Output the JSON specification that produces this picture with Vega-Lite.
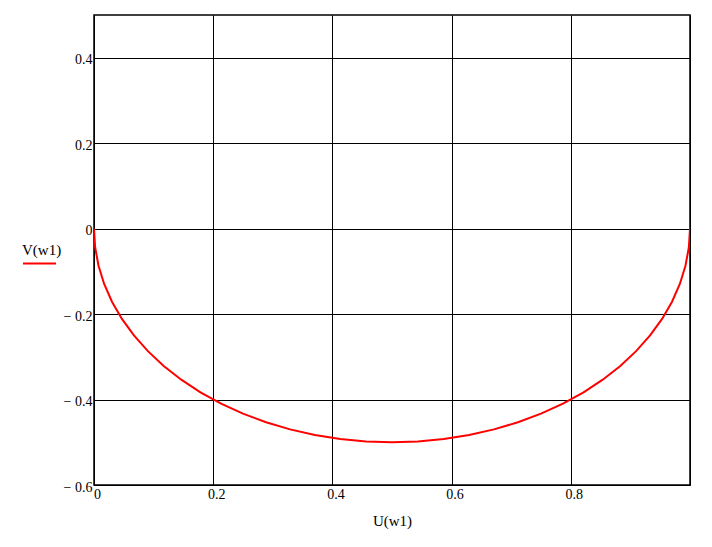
{
  "$schema": "https://vega.github.io/schema/vega-lite/v6.json",
  "width": 596,
  "height": 470,
  "autosize": "none",
  "padding": {"left": 94, "top": 15, "right": 22, "bottom": 62},
  "background": "white",
  "config": {
    "font": "Liberation Serif",
    "view": {"stroke": "#000000", "strokeWidth": 1.5}
  },
  "data": {
    "values": [
      {"U": 0, "V": 0, "s": "V(w1)"},
      {"U": 0.001903, "V": -0.043578, "s": "V(w1)"},
      {"U": 0.007596, "V": -0.086824, "s": "V(w1)"},
      {"U": 0.017037, "V": -0.12941, "s": "V(w1)"},
      {"U": 0.030154, "V": -0.17101, "s": "V(w1)"},
      {"U": 0.046846, "V": -0.211309, "s": "V(w1)"},
      {"U": 0.066987, "V": -0.25, "s": "V(w1)"},
      {"U": 0.090424, "V": -0.286788, "s": "V(w1)"},
      {"U": 0.116978, "V": -0.321394, "s": "V(w1)"},
      {"U": 0.146447, "V": -0.353553, "s": "V(w1)"},
      {"U": 0.178606, "V": -0.383022, "s": "V(w1)"},
      {"U": 0.213212, "V": -0.409576, "s": "V(w1)"},
      {"U": 0.25, "V": -0.433013, "s": "V(w1)"},
      {"U": 0.288691, "V": -0.453154, "s": "V(w1)"},
      {"U": 0.32899, "V": -0.469846, "s": "V(w1)"},
      {"U": 0.37059, "V": -0.482963, "s": "V(w1)"},
      {"U": 0.413176, "V": -0.492404, "s": "V(w1)"},
      {"U": 0.456422, "V": -0.498097, "s": "V(w1)"},
      {"U": 0.5, "V": -0.5, "s": "V(w1)"},
      {"U": 0.543578, "V": -0.498097, "s": "V(w1)"},
      {"U": 0.586824, "V": -0.492404, "s": "V(w1)"},
      {"U": 0.62941, "V": -0.482963, "s": "V(w1)"},
      {"U": 0.67101, "V": -0.469846, "s": "V(w1)"},
      {"U": 0.711309, "V": -0.453154, "s": "V(w1)"},
      {"U": 0.75, "V": -0.433013, "s": "V(w1)"},
      {"U": 0.786788, "V": -0.409576, "s": "V(w1)"},
      {"U": 0.821394, "V": -0.383022, "s": "V(w1)"},
      {"U": 0.853553, "V": -0.353553, "s": "V(w1)"},
      {"U": 0.883022, "V": -0.321394, "s": "V(w1)"},
      {"U": 0.909576, "V": -0.286788, "s": "V(w1)"},
      {"U": 0.933013, "V": -0.25, "s": "V(w1)"},
      {"U": 0.953154, "V": -0.211309, "s": "V(w1)"},
      {"U": 0.969846, "V": -0.17101, "s": "V(w1)"},
      {"U": 0.982963, "V": -0.12941, "s": "V(w1)"},
      {"U": 0.992404, "V": -0.086824, "s": "V(w1)"},
      {"U": 0.998097, "V": -0.043578, "s": "V(w1)"},
      {"U": 1, "V": 0, "s": "V(w1)"}
    ]
  },
  "mark": {"type": "line", "strokeWidth": 2, "clip": true},
  "encoding": {
    "x": {
      "field": "U",
      "type": "quantitative",
      "scale": {"domain": [0, 1], "nice": false, "zero": false},
      "axis": {
        "title": "U(w1)",
        "titleFont": "Liberation Serif",
        "titleFontSize": 15,
        "titleFontWeight": "normal",
        "titleColor": "#000000",
        "titlePadding": 12,
        "values": [0, 0.2, 0.4, 0.6, 0.8, 1],
        "labelExpr": "datum.value == 1 ? '' : (datum.value == 0 ? '0' : format(datum.value, '.1f'))",
        "labelFontSize": 14,
        "labelColor": "#000000",
        "labelFlush": false,
        "labelAlign": "center",
        "labelOffset": 3,
        "labelPadding": 2,
        "labelOverlap": false,
        "ticks": false,
        "domain": false,
        "grid": true,
        "gridColor": "#000000",
        "gridOpacity": 1,
        "gridWidth": 1
      }
    },
    "y": {
      "field": "V",
      "type": "quantitative",
      "scale": {"domain": [-0.6, 0.5], "nice": false, "zero": false},
      "axis": {
        "title": null,
        "values": [-0.6, -0.4, -0.2, 0, 0.2, 0.4],
        "labelExpr": "datum.value < 0 ? '\u2212 ' + format(abs(datum.value), '.1f') : (datum.value == 0 ? '0' : format(datum.value, '.1f'))",
        "labelFontSize": 14,
        "labelColor": "#000000",
        "labelBaseline": "middle",
        "labelOffset": 2,
        "labelPadding": 2,
        "labelOverlap": false,
        "labelFlush": false,
        "ticks": false,
        "domain": false,
        "grid": true,
        "gridColor": "#000000",
        "gridOpacity": 1,
        "gridWidth": 1
      }
    },
    "color": {
      "field": "s",
      "type": "nominal",
      "scale": {"domain": ["V(w1)"], "range": ["#ff0000"]},
      "legend": {
        "orient": "none",
        "legendX": -72,
        "legendY": 228,
        "title": "V(w1)",
        "titleFont": "Liberation Serif",
        "titleFontSize": 15,
        "titleFontWeight": "normal",
        "titleColor": "#000000",
        "titlePadding": -12,
        "symbolType": "stroke",
        "symbolSize": 1089,
        "symbolStrokeWidth": 2,
        "labelExpr": "''",
        "labelFontSize": 1
      }
    }
  }
}
